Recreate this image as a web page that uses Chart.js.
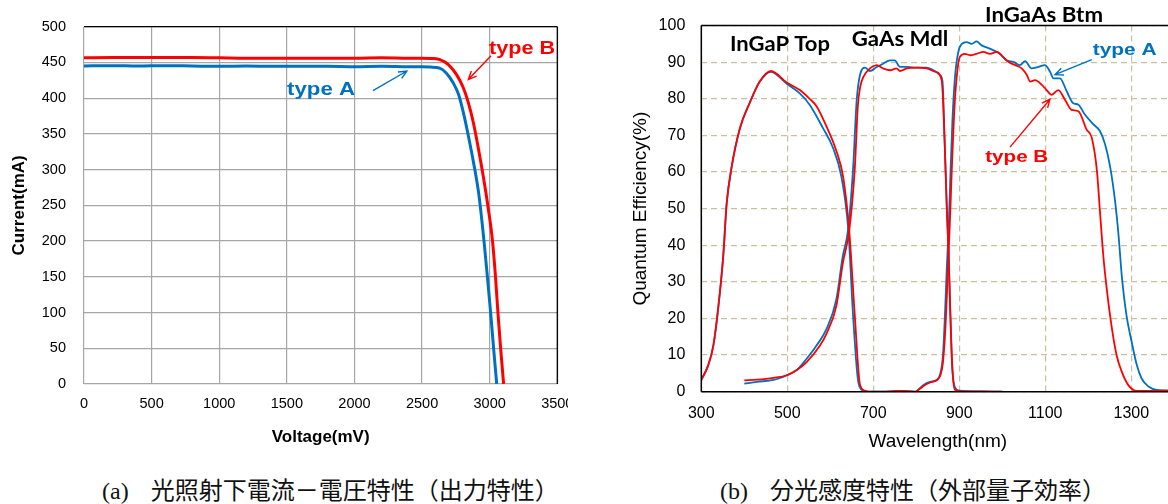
<!DOCTYPE html>
<html><head><meta charset="utf-8">
<script src="https://cdn.jsdelivr.net/npm/chart.js@4"></script>
<style>
html,body{margin:0;padding:0;background:#fff;width:1168px;height:504px;overflow:hidden;position:relative}
#wrapA{position:absolute;left:0;top:0;width:568px;height:470px;overflow:hidden}
#wrapB{position:absolute;left:600px;top:0;width:568px;height:470px;overflow:hidden}
canvas{position:absolute;left:0;top:0}
.cap{position:absolute;top:477px;font-family:"Noto Sans CJK JP";font-size:24px;line-height:24px;white-space:nowrap;color:#111}
.cap .lt{font-family:"Liberation Serif";margin-right:22px}
</style></head>
<body>
<div id="wrapA"><canvas id="cA" width="600" height="470"></canvas></div>
<div id="wrapB"><canvas id="cB" width="640" height="470"></canvas></div>
<div class="cap" style="left:102px"><span class="lt">(a)</span>光照射下電流－電圧特性（出力特性）</div>
<div class="cap" style="left:720px"><span class="lt">(b)</span>分光感度特性（外部量子効率）</div>
<script>
// ---- (a) I-V data ----
const voltA = [0,200,400,600,800,1000,1200,1400,1600,1800,2000,2200,2400,2500,2560,2630,2680,2730,2770,2805,2842,2880,2920,2958,2983,3007,3029,3052];
const currA = [445,445.5,445,445.5,445,444.5,445,444.5,444.5,444.5,444,444.5,444,444,443.5,442,435,421.5,405,380,347.5,310.5,265,200,150,100,50,0];
const voltB = [0,200,400,600,800,1000,1200,1400,1600,1800,2000,2200,2400,2500,2580,2632,2694,2755,2805,2842,2879,2916,2953,2990,3021,3043,3061,3081,3103];
const currB = [456.5,457,457,457,457,456.5,456,456,456,456,456,456.5,456,456,455.5,453.8,446.9,433,414.5,393.7,366,330,290,245,200,150,100,50,0];
const voltTicks = [0,500,1000,1500,2000,2500,3000,3500];
const currTicks = [0,50,100,150,200,250,300,350,400,450,500];

// ---- (b) quantum efficiency data ----
const wlTopA = [300,316,328,339,351,359,370,390,413,436,462,498,529,552,583,606,626,642,653,665,676,690,720,760,800];
const qeTopA = [3.2,7.2,12.6,22.5,37,51.4,61,72,79,84.7,87.4,84.2,81.5,78.4,72,66.7,58.6,44,20.7,2.7,0.3,0,0,0.2,0];
const wlTopB = [300,316,328,339,351,359,370,390,413,436,462,498,529,552,568,591,614,630,644,657,669,680,690,720,760,800];
const qeTopB = [3.2,7.2,12.6,22.5,37,51.4,61,72,79,84.7,87.6,84.5,82.4,80,78,72.5,65.8,58.6,44,20.7,2,0.3,0,0,0.2,0];
const wlMdlA = [400,429,468,499,522,545,568,591,614,629,641,653,661,669,681,692,708,723,739,750,762,780,801,824,840,855,861,866,871,875,879,883,889,900,950,1000];
const qeMdlA = [2.2,2.7,3.2,4.5,5.9,9.0,12.6,17.1,25.2,37,44,61,79,86.5,88.5,87.6,88.7,89.6,90.5,90.5,88.7,88.7,88.5,88.5,87.8,86.5,84.7,68,50,38,22,8,1.5,0.3,0.1,0];
const wlMdlB = [400,429,468,499,522,545,576,591,614,629,644,657,664,670,677,692,708,723,739,754,762,778,801,824,844,859,866,871,875,879,884,890,910,950,1000];
const qeMdlB = [3.1,3.3,3.8,4.5,5.9,8.1,12.6,15.8,23.4,35,44,61,78,83.5,86,88.3,89.2,88.3,87.8,88.3,87.6,88.3,88.5,88.3,87.4,85.1,68,50,38,22,6,0.5,0.1,0.1,0];
const wlBtmA = [800,816,832,848,856,862,867,871,875,879,884,890,898,906,917,929,940,952,971,995,1010,1026,1041,1053,1068,1084,1099,1111,1119,1134,1150,1165,1177,1192,1212,1227,1239,1251,1262,1270,1278,1289,1301,1313,1324,1340,1359,1400];
const qeBtmA = [0,1.8,2.7,3.2,5,10,22,34,44,58,74,86,93,95,95.5,95,95.7,94.6,93.7,92.3,90.5,90.1,89.2,90.3,88.3,88.7,89.2,87.4,85.6,85.6,82,78.8,78.4,75.7,73,71.2,67.6,61.3,52.3,43.2,31.5,20.7,13.5,7.2,3.6,1.4,0.5,0.3];
const wlBtmB = [800,816,832,848,856,862,868,873,878,883,888,894,901,913,925,940,956,971,987,1002,1014,1030,1045,1057,1065,1076,1092,1103,1115,1130,1146,1161,1177,1196,1208,1220,1227,1235,1243,1254,1266,1278,1293,1313,1400];
const qeBtmB = [0,1.5,2.5,3.2,4.5,8,18,32,46,62,76,86,91.4,92.3,91.9,92.3,92.8,92.3,92.8,91.4,90.1,89.2,88.3,86.5,84.7,85.1,83.8,82.4,81.1,82.4,79.7,77,76.6,71.6,69.4,60.4,49.5,37,28,18,9.9,5.4,1.8,0.2,0.3];
const wlTicks = [300,500,700,900,1100,1300];
const qeTicks = [0,10,20,30,40,50,60,70,80,90,100];

const RED = '#FF0000', BLUE = '#0070C0';
const SANS = '"Liberation Sans", Arial, sans-serif';
Chart.defaults.color = '#000';
Chart.defaults.font.family = SANS;

function pts(xs, ys){ return xs.map((x,i)=>({x:x, y:ys[i]})); }
const plain = v => String(v);

function makeNotes(cfg){
  return {
    id: 'notes',
    afterDraw(chart){
      const {ctx, chartArea:a, scales} = chart;
      const sx = scales.x, sy = scales.y;
      ctx.save();
      const fr = cfg.frame;
      const edges = {top:[a.left,a.top,a.right,a.top], right:[a.right,a.top,a.right,a.bottom],
                     bottom:[a.left,a.bottom,a.right,a.bottom], left:[a.left,a.top,a.left,a.bottom]};
      for (const k of Object.keys(edges)) {
        if (!fr[k]) continue;
        const e = edges[k];
        ctx.strokeStyle = fr[k]; ctx.lineWidth = fr.width; ctx.setLineDash([]);
        ctx.beginPath(); ctx.moveTo(e[0],e[1]); ctx.lineTo(e[2],e[3]); ctx.stroke();
      }
      for (const ar of cfg.arrows) {
        const x1 = sx.getPixelForValue(ar.from[0]), y1 = sy.getPixelForValue(ar.from[1]);
        const x2 = sx.getPixelForValue(ar.to[0]), y2 = sy.getPixelForValue(ar.to[1]);
        const ang = Math.atan2(y2-y1, x2-x1), L = 9, h = 0.42;
        ctx.strokeStyle = ar.color; ctx.lineWidth = 1.4;
        ctx.beginPath(); ctx.moveTo(x1,y1); ctx.lineTo(x2,y2);
        ctx.moveTo(x2 - L*Math.cos(ang-h), y2 - L*Math.sin(ang-h));
        ctx.lineTo(x2, y2);
        ctx.lineTo(x2 - L*Math.cos(ang+h), y2 - L*Math.sin(ang+h));
        ctx.stroke();
      }
      for (const lb of cfg.labels) {
        const px = sx.getPixelForValue(lb.x), py = sy.getPixelForValue(lb.y);
        ctx.save();
        ctx.font = lb.font; ctx.fillStyle = lb.color;
        ctx.textAlign = 'center'; ctx.textBaseline = 'alphabetic';
        const w = ctx.measureText(lb.text).width;
        ctx.translate(px, py);
        ctx.scale(lb.w / w, 1);
        ctx.fillText(lb.text, 0, 0);
        ctx.restore();
      }
      ctx.restore();
    }
  };
}

// ---------- Chart (a) ----------
new Chart(document.getElementById('cA'), {
  type: 'line',
  data: { datasets: [
    { data: pts(voltB, currB), borderColor: RED, borderWidth: 3, pointRadius: 0, cubicInterpolationMode: 'monotone' },
    { data: pts(voltA, currA), borderColor: BLUE, borderWidth: 3, pointRadius: 0, cubicInterpolationMode: 'monotone' }
  ]},
  options: {
    responsive: false, animation: false, events: [],
    layout: { padding: { left: 0, top: 23.3, right: 42.7, bottom: 0 } },
    plugins: { legend: { display: false }, tooltip: { enabled: false } },
    scales: {
      x: { type: 'linear', min: 0, max: 3500,
        afterBuildTicks: s => { s.ticks = voltTicks.map(v => ({value: v})); },
        afterFit: s => { s.height = 86; },
        grid: { color: '#A6A6A6', lineWidth: 1.2, drawTicks: false },
        border: { display: false },
        ticks: { padding: 11, maxRotation: 0, autoSkip: false, font: { size: 14.5 }, callback: plain },
        title: { display: true, text: 'Voltage(mV)', font: { size: 17, weight: 'bold' }, padding: { top: 0, bottom: 22 } }
      },
      y: { type: 'linear', min: 0, max: 500,
        afterBuildTicks: s => { s.ticks = currTicks.map(v => ({value: v})); },
        afterFit: s => { s.width = 84; },
        grid: { color: '#A6A6A6', lineWidth: 1.2, drawTicks: false },
        border: { display: false },
        ticks: { padding: 18, autoSkip: false, font: { size: 14.5 }, callback: plain },
        title: { display: true, text: 'Current(mA)', font: { size: 17, weight: 'bold' }, padding: { top: 9, bottom: 0 } }
      }
    }
  },
  plugins: [ makeNotes({
    frame: { top: '#000', right: '#000', width: 1.3 },
    arrows: [
      { from: [2137, 410.5], to: [2388, 438], color: BLUE },
      { from: [3010, 459.3], to: [2842, 426], color: RED }
    ],
    labels: [
      { text: 'type B', x: 3239, y: 462, color: RED, font: 'bold 18px ' + SANS, w: 66 },
      { text: 'type A', x: 1753, y: 405, color: BLUE, font: 'bold 18px ' + SANS, w: 68 }
    ]
  }) ]
});

// ---------- Chart (b) ----------
const lineB = (xs, ys, c) => ({ data: pts(xs, ys), borderColor: c, borderWidth: 1.8, pointRadius: 0, cubicInterpolationMode: 'monotone' });
new Chart(document.getElementById('cB'), {
  type: 'line',
  data: { datasets: [
    lineB(wlTopB, qeTopB, RED), lineB(wlMdlB, qeMdlB, RED), lineB(wlBtmB, qeBtmB, RED),
    lineB(wlTopA, qeTopA, BLUE), lineB(wlMdlA, qeMdlA, BLUE), lineB(wlBtmA, qeBtmA, BLUE)
  ]},
  options: {
    responsive: false, animation: false, events: [],
    layout: { padding: { left: 0, top: 22.3, right: 65.7, bottom: 0 } },
    plugins: { legend: { display: false }, tooltip: { enabled: false } },
    scales: {
      x: { type: 'linear', min: 300, max: 1400,
        afterBuildTicks: s => { s.ticks = wlTicks.map(v => ({value: v})); },
        afterFit: s => { s.height = 78.3; },
        grid: { color: '#C9C19E', lineWidth: 1.2, drawTicks: false },
        border: { display: false, dash: [6, 4] },
        ticks: { padding: 12, maxRotation: 0, autoSkip: false, font: { size: 16 }, callback: plain },
        title: { display: true, text: 'Wavelength(nm)', font: { size: 19 }, padding: { top: 0, bottom: 17 } }
      },
      y: { type: 'linear', min: 0, max: 100,
        afterBuildTicks: s => { s.ticks = qeTicks.map(v => ({value: v})); },
        afterFit: s => { s.width = 101.3; },
        grid: { color: '#C9C19E', lineWidth: 1.2, drawTicks: false },
        border: { display: false, dash: [6, 4] },
        ticks: { padding: 16, autoSkip: false, font: { size: 16 }, callback: plain },
        title: { display: true, text: 'Quantum Efficiency(%)', font: { size: 19 }, padding: { top: 29.6, bottom: 0 } }
      }
    }
  },
  plugins: [ makeNotes({
    frame: { top: '#000', left: '#000', bottom: '#000', right: '#000', width: 1.5 },
    arrows: [
      { from: [1208, 90.7], to: [1122.6, 86.6], color: BLUE },
      { from: [1018, 66.8], to: [1111, 79.9], color: RED }
    ],
    labels: [
      { text: 'InGaP Top', x: 483, y: 93.0, color: '#000', font: 'bold 20px Lato', w: 100 },
      { text: 'GaAs Mdl', x: 762, y: 94.3, color: '#000', font: 'bold 20px Lato', w: 96.6 },
      { text: 'InGaAs Btm', x: 1097, y: 101.1, color: '#000', font: 'bold 20px Lato', w: 118 },
      { text: 'type A', x: 1284.6, y: 92.0, color: BLUE, font: 'bold 17px ' + SANS, w: 64 },
      { text: 'type B', x: 1033.5, y: 62.7, color: RED, font: 'bold 17px ' + SANS, w: 63 }
    ]
  }) ]
});
</script>
</body></html>
